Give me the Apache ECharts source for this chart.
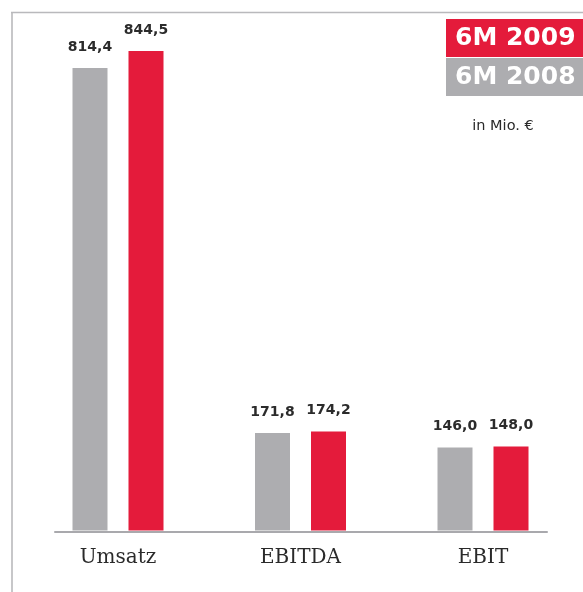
<!DOCTYPE html>
<html>
<head>
<meta charset="utf-8">
<script src="https://cdn.jsdelivr.net/npm/echarts@6/dist/echarts.min.js"></script>
<style>html,body{margin:0;padding:0;background:#fff}#c{width:583px;height:592px}</style>
</head>
<body>
<div id="c"></div>
<script>
const categories = ['Umsatz', 'EBITDA', 'EBIT'];
const seriesNames = ['6M 2008', '6M 2009'];
const values2008 = [814.4, 171.8, 146.0];
const values2009 = [844.5, 174.2, 148.0];
const unitLabel = 'in Mio. €';

const GRAY = '#adadb0';
const RED = '#e41b3b';
const fmt = p => p.value.toFixed(1).replace('.', ',');
const valueLabel = {
  show: true, position: 'top', distance: 14, formatter: fmt,
  fontFamily: 'DejaVu Sans', fontWeight: 'bold', fontSize: 14, color: '#2b2b2b'
};

const chart = echarts.init(document.getElementById('c'), null, {renderer: 'canvas'});
chart.setOption({
  animation: false,
  grid: [
    {left: 26.75, right: 8.75, top: 19.5, bottom: 61.5},
    {left: 55, right: 36, top: 19.5, bottom: 60.5}
  ],
  xAxis: [
    {type: 'category', gridIndex: 0, data: categories,
     axisLine: {show: false}, axisTick: {show: false},
     axisLabel: {margin: 17, fontFamily: 'DejaVu Serif', fontSize: 20, color: '#2a2a2a'}},
    {type: 'category', gridIndex: 1, data: categories,
     axisLine: {show: true, lineStyle: {color: '#a9a9ad', width: 2}},
     axisTick: {show: false}, axisLabel: {show: false}}
  ],
  yAxis: [
    {type: 'value', gridIndex: 0, min: 0, max: 900, show: false},
    {type: 'value', gridIndex: 1, min: 0, max: 900, show: false}
  ],
  series: [
    {name: seriesNames[0], type: 'bar', data: values2008, barWidth: 35, barGap: '60%',
     itemStyle: {color: GRAY}, label: valueLabel},
    {name: seriesNames[1], type: 'bar', data: values2009, barWidth: 35, barGap: '60%',
     itemStyle: {color: RED}, label: valueLabel}
  ],
  graphic: [
    {type: 'line', shape: {x1: 11, y1: 12.5, x2: 583, y2: 12.5}, style: {stroke: '#b9b9bc', lineWidth: 1.6}},
    {type: 'line', shape: {x1: 12, y1: 12, x2: 12, y2: 592}, style: {stroke: '#b9b9bc', lineWidth: 1.6}},
    {type: 'rect', shape: {x: 446, y: 19, width: 140, height: 38}, style: {fill: RED}},
    {type: 'rect', shape: {x: 446, y: 58, width: 140, height: 38}, style: {fill: GRAY}},
    {type: 'text', x: 455, y: 38, style: {text: seriesNames[1], fill: '#fff', font: 'bold 25px "DejaVu Sans"', textVerticalAlign: 'middle'}},
    {type: 'text', x: 455, y: 77, style: {text: seriesNames[0], fill: '#fff', font: 'bold 25px "DejaVu Sans"', textVerticalAlign: 'middle'}},
    {type: 'text', x: 503, y: 126, style: {text: unitLabel, fill: '#2a2a2a', font: '14.5px "DejaVu Sans"', textAlign: 'center', textVerticalAlign: 'middle'}}
  ]
});
</script>
</body>
</html>
